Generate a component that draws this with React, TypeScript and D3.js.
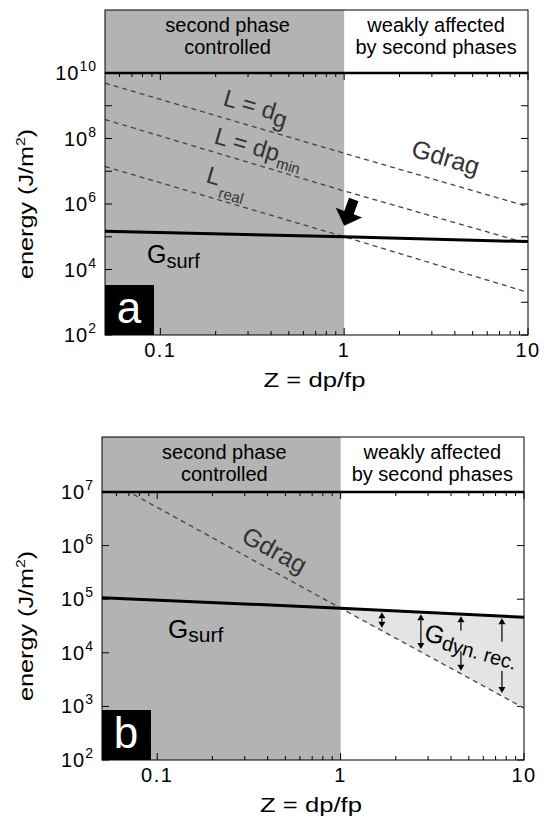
import React from "react";
import * as d3 from "d3";

// ---------- data ----------
const zDomain = [0.05, 10];
const zBoundary = 1;
const xTickValues = [0.1, 1, 10];
const xTickLabels = ["0.1", "1", "10"];
const xMinorTicks = [0.06, 0.07, 0.08, 0.09, 0.2, 0.3, 0.4, 0.5, 0.6, 0.7, 0.8, 0.9, 2, 3, 4, 5, 6, 7, 8, 9];

const headerLeft = ["second phase", "controlled"];
const headerRight = ["weakly affected", "by second phases"];

// panel a
const zA = [0.05, 1, 10];
const gSurfA = [1.48e5, 1.0e5, 7.1e4];
const lDgA = [4.9e9, 3.55e7, 8.3e5];
const lDpMinA = [3.8e8, 2.5e6, 6.2e4];
const lRealA = [1.4e7, 1.0e5, 2.0e3];
const yDomainA = [1e2, 1e10];
const yLabelExpA = [2, 4, 6, 8, 10];
const yTickExpA = [2, 3, 4, 5, 6, 7, 8, 9, 10];

// panel b
const zB = [0.05, 1, 10];
const gSurfB = [1.07e5, 6.8e4, 4.6e4];
const gDragB = [1.9e7, 6.8e4, 9.3e2];
const yDomainB = [1e2, 1e7];
const yLabelExpB = [2, 3, 4, 5, 6, 7];
const yTickExpB = [2, 3, 4, 5, 6, 7];
const arrowZ = [1.68, 2.74, 4.53, 7.58];
const arrowGapTop: (number | null)[] = [null, null, 2.6e4, 1.6e4];
const arrowGapBottom: (number | null)[] = [null, null, 1.07e4, 4.6e3];

const FONT = "'Liberation Sans', Arial, Helvetica, sans-serif";
const DARK_GRAY = "#b3b3b3";
const LIGHT_FILL = "#e4e4e4";
const DASH_COLOR = "#444";
const TEXT_GRAY = "#333";

type Geo = { left: number; right: number; headerTop: number; plotTop: number; plotBottom: number };

function Frame({ g, x, y, yTickExp, yLabelExp, id, letter }: any) {
  const { left, right, headerTop, plotTop, plotBottom } = g as Geo;
  const xb = x(zBoundary);
  return (
    <g>
      {/* header */}
      <rect x={left} y={headerTop} width={xb - left} height={plotTop - headerTop} fill={DARK_GRAY} />
      <rect x={left} y={headerTop} width={right - left} height={plotTop - headerTop} fill="none" stroke="#000" strokeWidth={1} />
      {headerLeft.map((t, i) => (
        <text key={"hl" + i} x={(left + xb) / 2 + 3} y={headerTop + 22 + i * 22} fontSize={20} textAnchor="middle" fontFamily={FONT}>{t}</text>
      ))}
      {headerRight.map((t, i) => (
        <text key={"hr" + i} x={(xb + right) / 2} y={headerTop + 22 + i * 22} fontSize={20} textAnchor="middle" fontFamily={FONT}>{t}</text>
      ))}
      {/* shading */}
      <rect x={left} y={plotTop} width={xb - left} height={plotBottom - plotTop} fill={DARK_GRAY} />
      {/* x ticks */}
      {xTickValues.map((v) => (
        <g key={"xt" + v}>
          <line x1={x(v)} x2={x(v)} y1={plotBottom} y2={plotBottom - 7} stroke="#000" />
          <line x1={x(v)} x2={x(v)} y1={plotTop} y2={plotTop + 7} stroke="#000" />
        </g>
      ))}
      {xMinorTicks.map((v) => (
        <g key={"xm" + v}>
          <line x1={x(v)} x2={x(v)} y1={plotBottom} y2={plotBottom - 4} stroke="#000" />
          <line x1={x(v)} x2={x(v)} y1={plotTop} y2={plotTop + 4} stroke="#000" />
        </g>
      ))}
      {xTickValues.map((v, i) => (
        <text key={"xl" + v} x={x(v)} y={plotBottom + 22} fontSize={20} textAnchor="middle" fontFamily={FONT} letterSpacing={1.5}>{xTickLabels[i]}</text>
      ))}
      {/* y ticks */}
      {yTickExp.map((e: number) => (
        <g key={"yt" + e}>
          <line x1={left} x2={left + 7} y1={y(Math.pow(10, e))} y2={y(Math.pow(10, e))} stroke="#000" />
          <line x1={right} x2={right - 7} y1={y(Math.pow(10, e))} y2={y(Math.pow(10, e))} stroke="#000" />
        </g>
      ))}
      {yLabelExp.map((e: number) => (
        <text key={"yl" + e} x={left - 8} y={y(Math.pow(10, e)) + 7} fontSize={20} textAnchor="end" fontFamily={FONT} letterSpacing={1}>
          <tspan>10</tspan>
          <tspan dy={-9} fontSize={14}>{e}</tspan>
        </text>
      ))}
      {/* axis titles */}
      <text transform={`translate(${(left + right) / 2 - 2},${plotBottom + 52}) scale(1.22,1)`} fontSize={21} textAnchor="middle" fontFamily={FONT}>Z = dp/fp</text>
      <text transform={`translate(33,${(plotTop + plotBottom) / 2}) rotate(-90) scale(1.2,1)`} fontSize={21} textAnchor="middle" fontFamily={FONT}>
        <tspan>energy (J/m</tspan>
        <tspan dy={-8} fontSize={13}>2</tspan>
        <tspan dy={8}>)</tspan>
      </text>
      {/* panel letter */}
      <rect x={left} y={plotBottom - 50} width={49} height={50} fill="#000" />
      <text x={left + 24} y={plotBottom - 12} fontSize={44} fill="#fff" textAnchor="middle" fontFamily={FONT}>{letter}</text>
    </g>
  );
}

function FrameBorder({ g }: any) {
  const { left, right, plotTop, plotBottom } = g as Geo;
  return (
    <g>
      <rect x={left} y={plotTop} width={right - left} height={plotBottom - plotTop} fill="none" stroke="#000" strokeWidth={1} />
      <line x1={left} x2={right} y1={plotTop} y2={plotTop} stroke="#000" strokeWidth={2.5} />
    </g>
  );
}

function angleOf(x: any, y: any, z: number[], v: number[], i: number) {
  const dx = x(z[i + 1]) - x(z[i]);
  const dy = y(v[i + 1]) - y(v[i]);
  return (Math.atan2(dy, dx) * 180) / Math.PI;
}

function PanelA() {
  const g: Geo = { left: 105, right: 528, headerTop: 10, plotTop: 73, plotBottom: 335 };
  const x = d3.scaleLog().domain(zDomain).range([g.left, g.right]);
  const y = d3.scaleLog().domain(yDomainA).range([g.plotBottom, g.plotTop]);
  const line = d3.line<[number, number]>().x((d) => x(d[0])).y((d) => y(d[1]));
  const pts = (vals: number[]) => zA.map((z, i) => [z, vals[i]] as [number, number]);
  const ang = angleOf(x, y, zA, lDgA, 0);
  const ang2 = angleOf(x, y, zA, lDgA, 1);
  const xb = x(zBoundary);
  const yb = y(gSurfA[1]);
  return (
    <g>
      <Frame g={g} x={x} y={y} yTickExp={yTickExpA} yLabelExp={yLabelExpA} id="a" letter="a" />
      <defs>
        <clipPath id="clipA"><rect x={g.left} y={g.plotTop} width={g.right - g.left} height={g.plotBottom - g.plotTop} /></clipPath>
      </defs>
      <g clipPath="url(#clipA)">
        {[lDgA, lDpMinA, lRealA].map((vals, i) => (
          <path key={i} d={line(pts(vals)) || ""} fill="none" stroke={DASH_COLOR} strokeWidth={1.3} strokeDasharray="5,4" />
        ))}
        <path d={line(pts(gSurfA)) || ""} fill="none" stroke="#000" strokeWidth={3} />
      </g>
      {/* labels */}
      <text transform={`translate(222,105) rotate(${ang})`} fontSize={24} fill={TEXT_GRAY} fontFamily={FONT}>
        <tspan>L = d</tspan><tspan dy={5}>g</tspan>
      </text>
      <text transform={`translate(213,143) rotate(${ang})`} fontSize={24} fill={TEXT_GRAY} fontFamily={FONT}>
        <tspan>L = dp</tspan><tspan dy={6} fontSize={15}>min</tspan>
      </text>
      <text transform={`translate(205,182) rotate(${ang})`} fontSize={24} fill={TEXT_GRAY} fontFamily={FONT}>
        <tspan>L</tspan><tspan dx={3} dy={11} fontSize={15}>real</tspan>
      </text>
      <text transform={`translate(410,156) rotate(${ang2})`} fontSize={25} fill={TEXT_GRAY} fontFamily={FONT}>Gdrag</text>
      <text x={147} y={263} fontSize={25} fontFamily={FONT}>
        <tspan>G</tspan><tspan dy={5} fontSize={20}>surf</tspan>
      </text>
      {/* arrow */}
      <g transform={`translate(${xb},${yb - 11}) rotate(20)`}>
        <polygon points="0,0 -14,-14 -5,-14 -5,-28 5,-28 5,-14 14,-14" fill="#000" />
      </g>
      <FrameBorder g={g} />
    </g>
  );
}

function PanelB() {
  const g: Geo = { left: 102, right: 524, headerTop: 437, plotTop: 492, plotBottom: 760 };
  const x = d3.scaleLog().domain(zDomain).range([g.left, g.right]);
  const y = d3.scaleLog().domain(yDomainB).range([g.plotBottom, g.plotTop]);
  const line = d3.line<[number, number]>().x((d) => x(d[0])).y((d) => y(d[1]));
  const pts = (vals: number[]) => zB.map((z, i) => [z, vals[i]] as [number, number]);
  const right = zB.map((z, i) => ({ z, s: gSurfB[i], d: gDragB[i] })).filter((d) => d.z >= zBoundary);
  const area = d3.area<any>().x((d) => x(d.z)).y0((d) => y(d.d)).y1((d) => y(d.s));
  const angDrag = angleOf(x, y, zB, gDragB, 0);
  const angDyn = angleOf(x, y, zB, gDragB, 1) * 0.55;
  const logInterp = (vals: number[], z: number) => {
    const lz = Math.log10(z);
    for (let i = 0; i < zB.length - 1; i++) {
      const a = Math.log10(zB[i]), b = Math.log10(zB[i + 1]);
      if (lz >= a && lz <= b) {
        const t = (lz - a) / (b - a);
        return Math.pow(10, Math.log10(vals[i]) * (1 - t) + Math.log10(vals[i + 1]) * t);
      }
    }
    return vals[vals.length - 1];
  };
  const head = 6;
  const arrowSeg = (xx: number, yFrom: number, yTo: number, key: string) => {
    const dir = yTo > yFrom ? 1 : -1;
    return (
      <g key={key}>
        <line x1={xx} x2={xx} y1={yFrom} y2={yTo - dir * head} stroke="#000" strokeWidth={1.2} />
        <polygon points={`${xx},${yTo} ${xx - 3.5},${yTo - dir * head} ${xx + 3.5},${yTo - dir * head}`} fill="#000" />
      </g>
    );
  };
  return (
    <g>
      <Frame g={g} x={x} y={y} yTickExp={yTickExpB} yLabelExp={yLabelExpB} id="b" letter="b" />
      <defs>
        <clipPath id="clipB"><rect x={g.left} y={g.plotTop} width={g.right - g.left} height={g.plotBottom - g.plotTop} /></clipPath>
      </defs>
      <g clipPath="url(#clipB)">
        <path d={area(right) || ""} fill={LIGHT_FILL} />
        <path d={line(pts(gDragB)) || ""} fill="none" stroke={DASH_COLOR} strokeWidth={1.3} strokeDasharray="5,4" />
        <path d={line(pts(gSurfB)) || ""} fill="none" stroke="#000" strokeWidth={3} />
      </g>
      {arrowZ.map((z, i) => {
        const xx = x(z);
        const yTop = y(logInterp(gSurfB, z)) + 2;
        const yBot = y(logInterp(gDragB, z)) - 3;
        const gt = arrowGapTop[i];
        const gb = arrowGapBottom[i];
        if (gt == null || gb == null) {
          const mid = (yTop + yBot) / 2;
          return (
            <g key={"ar" + i}>
              {arrowSeg(xx, mid, yTop, "u")}
              {arrowSeg(xx, mid, yBot, "d")}
            </g>
          );
        }
        return (
          <g key={"ar" + i}>
            {arrowSeg(xx, y(gt), yTop, "u")}
            {arrowSeg(xx, y(gb), yBot, "d")}
          </g>
        );
      })}
      <text transform={`translate(240,541) rotate(${angDrag})`} fontSize={25} fill={TEXT_GRAY} fontFamily={FONT}>Gdrag</text>
      <text x={168} y={638} fontSize={26} fontFamily={FONT}>
        <tspan>G</tspan><tspan dy={4} fontSize={21}>surf</tspan>
      </text>
      <text transform={`translate(423,640) rotate(${angDyn})`} fontSize={25} fontFamily={FONT}>
        <tspan>G</tspan><tspan dy={4} fontSize={20}>dyn. rec.</tspan>
      </text>
      <FrameBorder g={g} />
    </g>
  );
}

export default function App() {
  return (
    <svg width={544} height={823} style={{ position: "absolute", left: 0, top: 0, background: "#fff" }}>
      <rect width={544} height={823} fill="#fff" />
      <PanelA />
      <PanelB />
    </svg>
  );
}
